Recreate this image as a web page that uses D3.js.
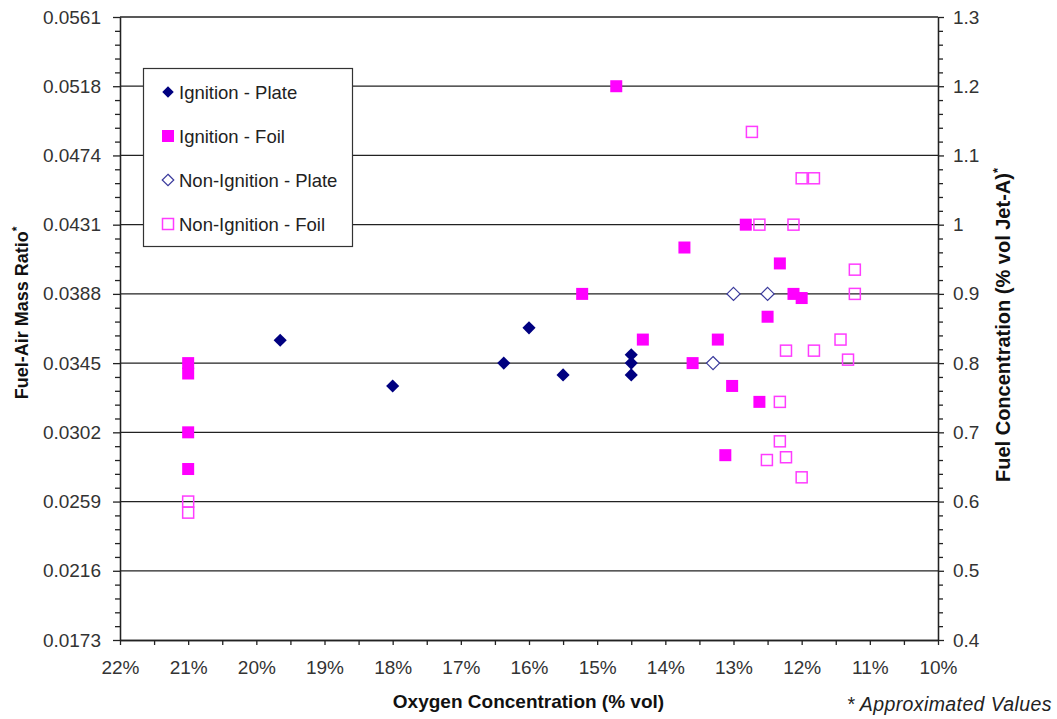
<!DOCTYPE html>
<html><head><meta charset="utf-8">
<script src="https://cdn.jsdelivr.net/npm/d3@7"></script>
<style>
body{margin:0;background:#fff;}
svg{font-family:"Liberation Sans",Arial,sans-serif;}
</style></head><body>
<svg id="c" width="1057" height="719"></svg>
<script>
// ---- data ----
const fuelTicks = [0.4,0.5,0.6,0.7,0.8,0.9,1.0,1.1,1.2,1.3];
const rightLabels = ["0.4","0.5","0.6","0.7","0.8","0.9","1","1.1","1.2","1.3"];
const leftLabels = ["0.0173","0.0216","0.0259","0.0302","0.0345","0.0388","0.0431","0.0474","0.0518","0.0561"];
const oxyTicks = [22,21,20,19,18,17,16,15,14,13,12,11,10];
const oxyLabels = ["22%","21%","20%","19%","18%","17%","16%","15%","14%","13%","12%","11%","10%"];

const ignPlateO = [19.65, 18.0, 16.37, 16.0, 15.5, 14.5, 14.5, 14.5];
const ignPlateF = [0.833, 0.767, 0.8, 0.851, 0.783, 0.812, 0.8, 0.783];

const ignFoilO = [21, 21, 21, 21, 14.72, 12.82, 13.72, 12.32, 15.22, 12.12, 12.0, 12.5, 14.33, 13.23, 13.6, 13.02, 12.62, 13.12];
const ignFoilF = [0.8, 0.785, 0.7, 0.647, 1.2, 1.0, 0.967, 0.944, 0.9, 0.9, 0.894, 0.867, 0.834, 0.834, 0.8, 0.767, 0.744, 0.667];

const nonPlateO = [13.0, 12.5, 13.3];
const nonPlateF = [0.9, 0.9, 0.8];

const nonFoilO = [21, 21, 12.73, 12.0, 11.82, 12.62, 12.12, 11.22, 11.22, 11.43, 12.23, 11.82, 11.32, 12.32, 12.32, 12.51, 12.23, 12.0];
const nonFoilF = [0.6, 0.584, 1.134, 1.067, 1.067, 1.0, 1.0, 0.935, 0.9, 0.834, 0.818, 0.818, 0.805, 0.744, 0.687, 0.66, 0.664, 0.635];

const seriesNames = ["Ignition - Plate","Ignition - Foil","Non-Ignition - Plate","Non-Ignition - Foil"];

// ---- layout ----
const L=120, R=938, T=17, B=640;
const svg = d3.select("#c");
const x = d3.scaleLinear().domain([22,10]).range([L,R]);
const y = d3.scaleLinear().domain([0.4,1.3]).range([B,T]);

// gridlines
svg.append("g").selectAll("line").data(fuelTicks.slice(1)).join("line")
  .attr("x1",L).attr("x2",R).attr("y1",d=>y(d)).attr("y2",d=>y(d))
  .attr("stroke","#222").attr("stroke-width",1.3);

const minorF = d3.range(0,45).map(i=>+(0.4+i*0.02).toFixed(2)).filter(v=>Math.round(v*100)%10!==0);
const minorO = d3.range(0,25).map(i=>22-i*0.5).filter(v=>v%1!==0);

function styleAxis(g){
  g.select(".domain").attr("stroke","#222").attr("stroke-width",1.3);
  g.selectAll(".tick line").attr("stroke","#222").attr("stroke-width",1.3);
  g.selectAll(".tick text").attr("fill","#333").style("font-size","19px");
}
// left axis
const gl = svg.append("g").attr("transform",`translate(${L},0)`)
  .call(d3.axisLeft(y).tickValues(fuelTicks).tickFormat((d,i)=>leftLabels[i]).tickSize(7).tickPadding(12).tickSizeOuter(0));
styleAxis(gl);
svg.append("g").attr("transform",`translate(${L},0)`)
  .call(d3.axisLeft(y).tickValues(minorF).tickFormat("").tickSize(5).tickSizeOuter(0)).call(styleAxis);
// right axis
const gr = svg.append("g").attr("transform",`translate(${R},0)`)
  .call(d3.axisRight(y).tickValues(fuelTicks).tickFormat((d,i)=>rightLabels[i]).tickSize(6).tickPadding(9).tickSizeOuter(0));
styleAxis(gr);
svg.append("g").attr("transform",`translate(${R},0)`)
  .call(d3.axisRight(y).tickValues(minorF).tickFormat("").tickSize(5).tickSizeOuter(0)).call(styleAxis);
// bottom axis
const gb = svg.append("g").attr("transform",`translate(0,${B})`)
  .call(d3.axisBottom(x).tickValues(oxyTicks).tickFormat((d,i)=>oxyLabels[i]).tickSize(5).tickPadding(16).tickSizeOuter(0));
styleAxis(gb);
svg.append("g").attr("transform",`translate(0,${B})`)
  .call(d3.axisBottom(x).tickValues(minorO).tickFormat("").tickSize(5).tickSizeOuter(0)).call(styleAxis);

// markers
const diamond = d3.symbol().type(d3.symbolDiamond2).size(110);
function drawSeries(O,F,kind){
  const pts = O.map((o,i)=>[o,F[i]]);
  const g = svg.append("g");
  if(kind==="fd"){
    g.selectAll("path").data(pts).join("path").attr("d",diamond)
     .attr("transform",d=>`translate(${x(d[0])},${y(d[1])})`).attr("fill","#000080");
  } else if(kind==="fs"){
    g.selectAll("rect").data(pts).join("rect")
     .attr("x",d=>x(d[0])-6).attr("y",d=>y(d[1])-6).attr("width",12).attr("height",12).attr("fill","#ff00ff");
  } else if(kind==="od"){
    g.selectAll("path").data(pts).join("path").attr("d",diamond)
     .attr("transform",d=>`translate(${x(d[0])},${y(d[1])})`).attr("fill","#fff").attr("stroke","#3a3a9c").attr("stroke-width",1.2);
  } else {
    g.selectAll("rect").data(pts).join("rect")
     .attr("x",d=>x(d[0])-5.5).attr("y",d=>y(d[1])-5.5).attr("width",11).attr("height",11)
     .attr("fill","none").attr("stroke","#ff3cff").attr("stroke-width",1.5);
  }
}
drawSeries(ignPlateO,ignPlateF,"fd");
drawSeries(ignFoilO,ignFoilF,"fs");
drawSeries(nonPlateO,nonPlateF,"od");
drawSeries(nonFoilO,nonFoilF,"os");

// legend
const lg = svg.append("g");
lg.append("rect").attr("x",143.5).attr("y",68.5).attr("width",209).attr("height",178)
  .attr("fill","#fff").attr("stroke","#333").attr("stroke-width",1.2);
const kinds=["fd","fs","od","os"];
const legSym = d3.symbol().type(d3.symbolDiamond2).size(85);
seriesNames.forEach((n,i)=>{
  const cy = 92 + i*44;
  const k = kinds[i];
  if(k==="fd") lg.append("path").attr("d",legSym).attr("transform",`translate(168,${cy})`).attr("fill","#000080");
  if(k==="fs") lg.append("rect").attr("x",162).attr("y",cy-6).attr("width",12).attr("height",12).attr("fill","#ff00ff");
  if(k==="od") lg.append("path").attr("d",legSym).attr("transform",`translate(168,${cy})`).attr("fill","#fff").attr("stroke","#3a3a9c").attr("stroke-width",1.2);
  if(k==="os") lg.append("rect").attr("x",162.5).attr("y",cy-5.5).attr("width",11).attr("height",11).attr("fill","none").attr("stroke","#ff3cff").attr("stroke-width",1.5);
  lg.append("text").attr("x",179).attr("y",cy+6.5).attr("fill","#222").style("font-size","18.5px").text(n);
});

// axis titles
svg.append("text").attr("x",528.5).attr("y",708).attr("text-anchor","middle")
  .style("font-size","19px").style("font-weight","bold").attr("fill","#111").text("Oxygen Concentration (% vol)");
const lt = svg.append("text").attr("transform","translate(28,313) rotate(-90)").attr("text-anchor","middle")
  .style("font-size","18px").style("font-weight","bold").attr("fill","#111");
lt.append("tspan").text("Fuel-Air Mass Ratio");
lt.append("tspan").attr("dy",-7).style("font-size","12px").text("*");
const rt = svg.append("text").attr("transform","translate(1010,325) rotate(-90)").attr("text-anchor","middle")
  .style("font-size","20px").style("font-weight","bold").attr("fill","#111");
rt.append("tspan").text("Fuel Concentration (% vol Jet-A)");
rt.append("tspan").attr("dy",-8).style("font-size","13px").text("*");
svg.append("text").attr("x",1052).attr("y",711).attr("text-anchor","end")
  .style("font-size","19.5px").style("font-style","italic").style("letter-spacing","0.4px").attr("fill","#222").text("* Approximated Values");
</script>
</body></html>
